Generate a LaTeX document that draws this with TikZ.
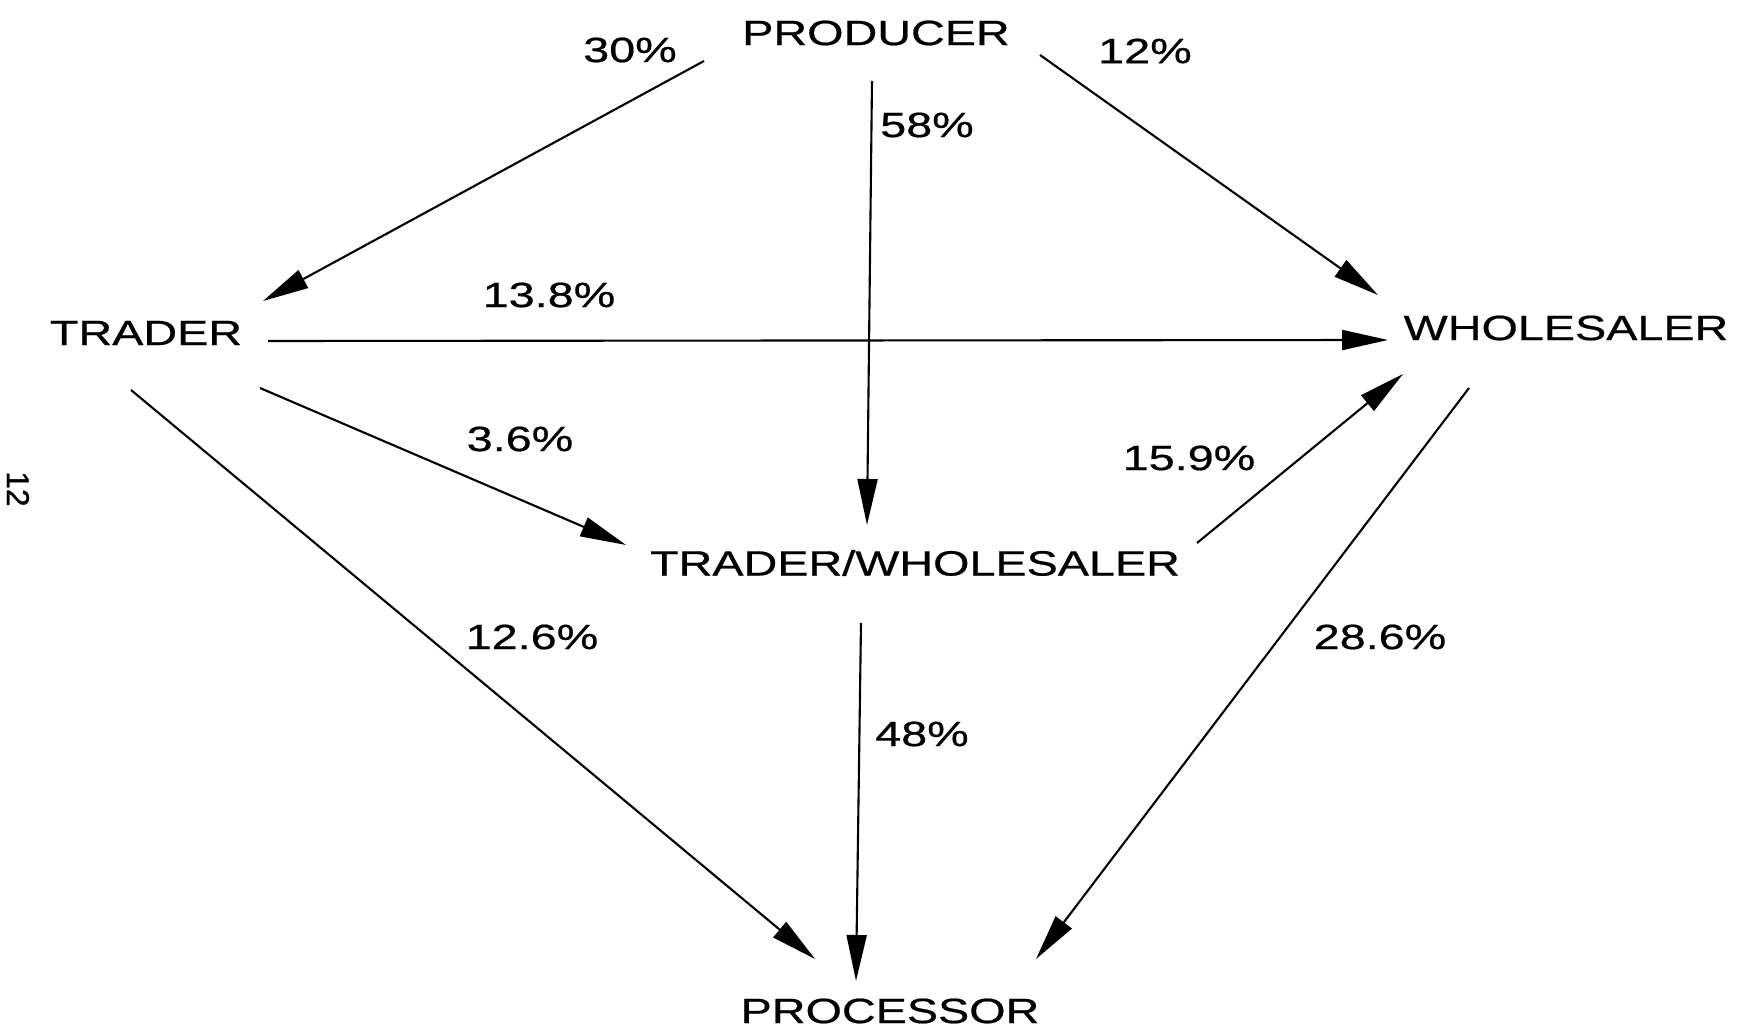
\documentclass[tikz,border=0pt]{standalone}
\usepackage{fontspec}
\setmainfont{Liberation Sans}
\newfontfamily\labfont[FakeStretch=1.33,FakeBold=0.6]{Liberation Sans}
\newfontfamily\pgfontx[FakeBold=1]{Liberation Sans}
\usetikzlibrary{arrows.meta}
\begin{document}
\begin{tikzpicture}[x=0.1mm,y=-0.1mm,
  lbl/.style={font={\labfont\fontsize{10}{12}\selectfont}, inner sep=0pt},
  flow/.style={line width=0.6pt, -{Triangle[length=4.6mm,width=2.0mm]}}]
\useasboundingbox[fill=white] (0,0) rectangle (1738,1033);

% main nodes
\node[lbl] (prod)  at (876,33)   {PRODUCER};
\node[lbl] (trad)  at (146,333)  {TRADER};
\node[lbl] (whole) at (1566,328) {WHOLESALER};
\node[lbl] (tw)    at (915,563)  {TRADER/WHOLESALER};
\node[lbl] (proc)  at (890,1011) {PROCESSOR};

% percentage labels
\node[lbl] (l30)  at (630,50)  {30\%};
\node[lbl] (l12)  at (1145,51) {12\%};
\node[lbl] (l58)  at (927,125) {58\%};
\node[lbl] (l138) at (549,295) {13.8\%};
\node[lbl] (l36)  at (520,439) {3.6\%};
\node[lbl] (l159) at (1189,458) {15.9\%};
\node[lbl] (l126) at (532,637) {12.6\%};
\node[lbl] (l286) at (1380,637) {28.6\%};
\node[lbl] (l48)  at (922,734) {48\%};

% page number
\node[rotate=-90, font={\pgfontx\fontsize{9}{10}\selectfont}, inner sep=0pt] (pg) at (18,489) {12};

% connectors
\draw[flow] ([shift={(-172,28)}]prod.center) -- ([shift={(117,-32)}]trad.center);
\draw[flow] ([shift={(-4,48)}]prod.center)   -- ([shift={(-48,-38)}]tw.center);
\draw[flow] ([shift={(164,22)}]prod.center)  -- ([shift={(-188,-33)}]whole.center);
\draw[flow] ([shift={(122,8)}]trad.center)   -- ([shift={(-178,12)}]whole.center);
\draw[flow] ([shift={(114,55)}]trad.center)  -- ([shift={(-289,-18)}]tw.center);
\draw[flow] ([shift={(282,-20)}]tw.center)   -- ([shift={(-163,46)}]whole.center);
\draw[flow] ([shift={(-15,57)}]trad.center)  -- ([shift={(-75,-52)}]proc.center);
\draw[flow] ([shift={(-54,60)}]tw.center)    -- ([shift={(-34,-30)}]proc.center);
\draw[flow] ([shift={(-97,60)}]whole.center) -- ([shift={(146,-52)}]proc.center);
\end{tikzpicture}
\end{document}
